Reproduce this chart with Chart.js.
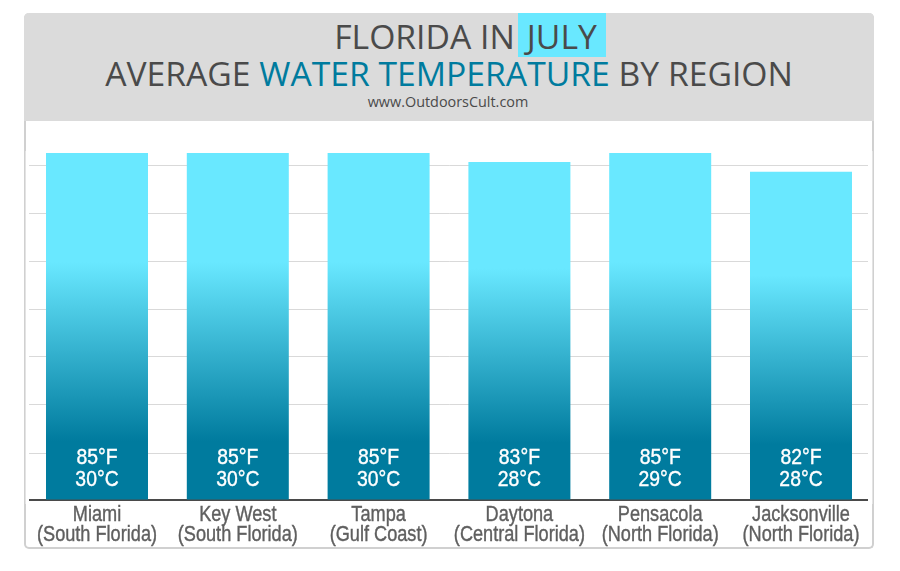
<!DOCTYPE html>
<html>
<head>
<meta charset="utf-8">
<title>Florida in July</title>
<script src="https://cdn.jsdelivr.net/npm/chart.js@4/dist/chart.umd.min.js"></script>
<style>
html, body { margin: 0; padding: 0; background: #fff; }
#page { position: relative; width: 900px; height: 571px; overflow: hidden; }
#frame { position: absolute; left: 24px; top: 13px; width: 846px; height: 534px; border: 2px solid #d0d0d0; border-top: 0; border-radius: 5px; }
#head { position: absolute; left: 24px; top: 13px; width: 850px; height: 108px; background: #dbdbdb; border-radius: 5px 5px 0 0; text-align: center; color: #4a4a4a; font-family: "Open Sans", sans-serif; }
#head div { position: absolute; left: 0; right: 0; white-space: nowrap; }
#head #l1 { left: 42px; top: 0; font-size: 33.7px; line-height: 46px; }
#l2 { top: 38px; font-size: 33.7px; line-height: 44px; }
#head #l3 { left: -2px; top: 79px; font-size: 14.4px; line-height: 20px; }
.july { background: #69e8ff; padding: 0 9px; margin-left: 3px; display: inline-block; height: 44px; }
.water { color: #007b9e; }
canvas { position: absolute; left: 0; top: 0; }
</style>
</head>
<body>
<div id="page">
  <div id="frame"></div>
  <div id="head">
    <div id="l1">FLORIDA IN<span class="july">JULY</span></div>
    <div id="l2">AVERAGE <span class="water">WATER TEMPERATURE</span> BY REGION</div>
    <div id="l3">www.OutdoorsCult.com</div>
  </div>
  <canvas id="tempChart" width="900" height="571"></canvas>
</div>
<script>
const cities = ['Miami', 'Key West', 'Tampa', 'Daytona', 'Pensacola', 'Jacksonville'];
const regions = ['(South Florida)', '(South Florida)', '(Gulf Coast)', '(Central Florida)', '(North Florida)', '(North Florida)'];
// bar heights as drawn in the picture, on a scale where 85 is the tallest
const barValues = [85, 85, 85, 82.8, 85, 80.4];
const tempF = ['85°F', '85°F', '85°F', '83°F', '85°F', '82°F'];
const tempC = ['30°C', '30°C', '30°C', '28°C', '29°C', '28°C'];
const yTicks = [0, 11.39, 23.39, 35.15, 46.66, 58.42, 70.18, 81.94];

function barGradient(context) {
    const chart = context.chart;
    if (!chart.scales.y || !context.parsed) return '#69e8ff';
    const top = chart.scales.y.getPixelForValue(context.parsed.y);
    const base = chart.scales.y.getPixelForValue(0);
    if (!isFinite(top) || !isFinite(base)) return '#69e8ff';
    const g = chart.ctx.createLinearGradient(0, top, 0, base);
    g.addColorStop(0, '#69e8ff');
    g.addColorStop(0.315, '#69e8ff');
    g.addColorStop(0.83, '#007b9e');
    g.addColorStop(1, '#007b9e');
    return g;
}

// no narrow font is installed, so squeeze Liberation Sans sideways
// and thicken it a bit with a thin stroke
function narrowText(c, text, x, y, squeeze) {
    c.save();
    c.translate(x, y);
    c.scale(squeeze, 1);
    c.fillText(text, 0, 0);
    c.strokeText(text, 0, 0);
    c.restore();
}

// gridlines and axis line stop a little short of the category band on both sides
const gridMask = {
    id: 'gridMask',
    beforeDatasetsDraw(chart) {
        const a = chart.chartArea, c = chart.ctx;
        c.save();
        c.fillStyle = '#fff';
        c.fillRect(a.left - 1, a.top - 2, 30 - a.left, a.bottom - a.top + 6);
        c.fillRect(868, a.top - 2, a.right - 868 + 1, a.bottom - a.top + 6);
        c.restore();
    }
};

const barText = {
    id: 'barText',
    afterDatasetsDraw(chart) {
        const c = chart.ctx;
        const xAxis = chart.scales.x;
        c.save();
        c.textAlign = 'center';
        c.textBaseline = 'alphabetic';
        c.font = '22px "Liberation Sans", sans-serif';
        c.lineWidth = 0.4;
        c.fillStyle = c.strokeStyle = '#fff';
        chart.getDatasetMeta(0).data.forEach(function (bar, i) {
            narrowText(c, tempF[i], bar.x, 464, 0.88);
            narrowText(c, tempC[i], bar.x, 486, 0.88);
        });
        c.fillStyle = c.strokeStyle = '#5f5f5f';
        cities.forEach(function (name, i) {
            const x = xAxis.getPixelForTick(i);
            narrowText(c, name, x, 521, 0.825);
            narrowText(c, regions[i], x, 541, 0.825);
        });
        c.restore();
    }
};

new Chart(document.getElementById('tempChart'), {
    type: 'bar',
    plugins: [gridMask, barText],
    data: {
        labels: cities,
        datasets: [{
            data: barValues,
            backgroundColor: barGradient,
            barPercentage: 1,
            categoryPercentage: 0.7244
        }]
    },
    options: {
        responsive: false,
        animation: false,
        devicePixelRatio: 1,
        layout: { padding: { left: 26.6, right: 28.6, top: 153, bottom: 71 } },
        plugins: { legend: { display: false }, tooltip: { enabled: false } },
        scales: {
            x: {
                grid: { display: false, drawTicks: false },
                border: { color: '#4a4a4a', width: 2 },
                ticks: { display: false }
            },
            y: {
                min: 0,
                max: 85,
                afterBuildTicks(axis) { axis.ticks = yTicks.map(function (v) { return { value: v }; }); },
                grid: { color: '#d9d9d9', lineWidth: 1, drawTicks: false },
                border: { display: false },
                ticks: { display: false }
            }
        }
    }
});
</script>
</body>
</html>
